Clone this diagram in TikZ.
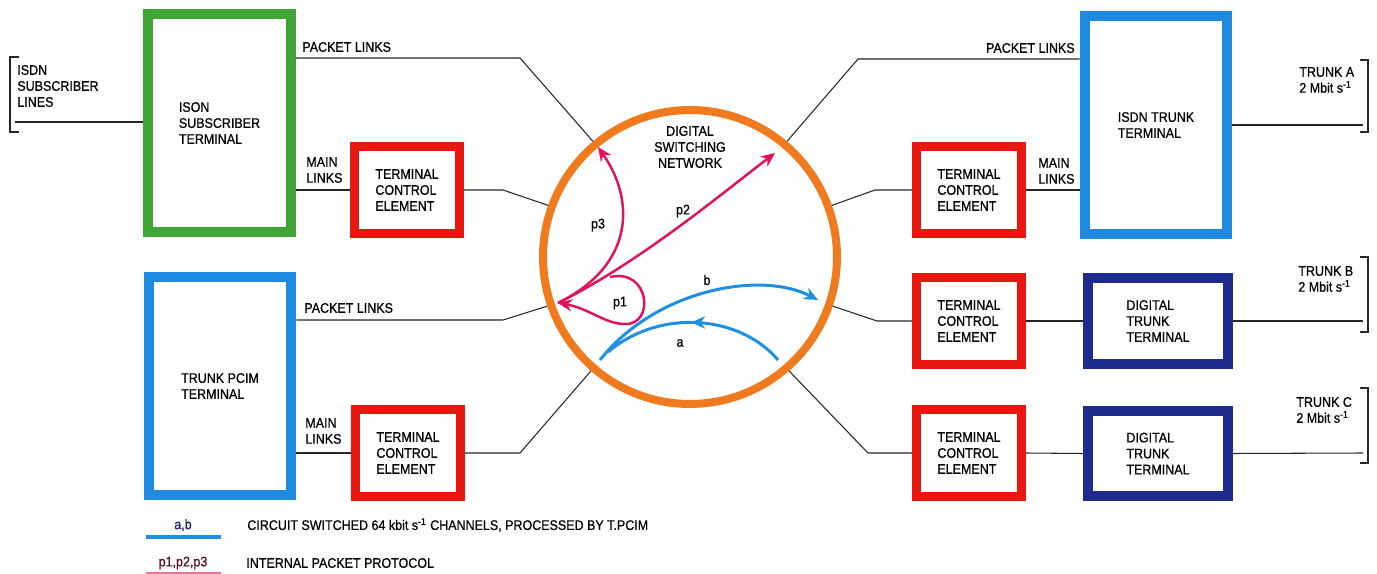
\documentclass[tikz,border=0pt]{standalone}
\usepackage{fontspec}
\setmainfont{Liberation Sans}[FakeStretch=0.9, FakeBold=0.7]
\usepackage{xcolor}
\usepackage{tikz}
\usetikzlibrary{positioning, arrows.meta, decorations.markings}

\begin{document}
\begin{tikzpicture}[x=0.02cm, y=-0.02cm, font=\fontsize{7.9}{9.1}\selectfont,
  link/.style={black!85, line width=0.6pt},
  term/.style={draw, fill=white, text=black, align=left, inner sep=0pt, line width=0.2cm},
  bigterm/.style={term, minimum width=2.86cm, minimum height=4.36cm},
  tcebox/.style={term, draw=tceRed, line width=0.18cm, minimum width=2.1cm, minimum height=1.74cm},
  dttbox/.style={term, draw=dttNavy, minimum width=2.8cm, minimum height=1.72cm},
  lbl/.style={anchor=west, align=left, inner sep=0pt},
  tip/.style={-{Stealth[length=8pt,width=7pt]}},
  pkt/.style={pktMagenta, line width=0.05cm, tip},
  ckt/.style={cktBlue, line width=0.06cm}]
\definecolor{subGreen}{HTML}{3FA535}
\definecolor{trkBlue}{HTML}{1E8BE0}
\definecolor{dttNavy}{HTML}{1E2A8C}
\definecolor{tceRed}{HTML}{E8170F}
\definecolor{dsnOrange}{HTML}{F07A1E}
\definecolor{pktMagenta}{HTML}{E0145E}
\definecolor{cktBlue}{HTML}{1E90E2}
\definecolor{legNavy}{HTML}{1A2260}
\definecolor{legMaroon}{HTML}{5A1020}
\useasboundingbox (0,0) rectangle (1377,574);

\node[bigterm, draw=subGreen] (sub) at (219.5,123) {ISON\\SUBSCRIBER\\TERMINAL};
\node[bigterm, draw=trkBlue] (pcim) at (220,386) {TRUNK PCIM\\TERMINAL};
\node[bigterm, draw=trkBlue] (itt) at (1156,125) {ISDN TRUNK\\TERMINAL};
\node[tcebox] (tceA) at (407,190) {TERMINAL\\CONTROL\\ELEMENT};
\node[tcebox] (tceB) at (408,453) {TERMINAL\\CONTROL\\ELEMENT};
\node[tcebox] (tceC) at (969,190) {TERMINAL\\CONTROL\\ELEMENT};
\node[tcebox] (tceD) at (969,321) {TERMINAL\\CONTROL\\ELEMENT};
\node[tcebox] (tceE) at (969,453) {TERMINAL\\CONTROL\\ELEMENT};
\node[dttbox] (dttB) at (1158,321) {DIGITAL\\TRUNK\\TERMINAL};
\node[dttbox] (dttC) at (1158,453.5) {DIGITAL\\TRUNK\\TERMINAL};
\node[circle, draw=dsnOrange, line width=0.16cm, minimum size=5.88cm, inner sep=0pt] (dsn) at (690,257) {};
\node[align=center, inner sep=0pt] (dsnl) at (690,147) {DIGITAL\\SWITCHING\\NETWORK};

\coordinate (sl) at (15,122);
\coordinate (kA) at (520,58);
\coordinate (kB) at (503,190);
\coordinate (kC) at (503,320);
\coordinate (kD) at (520,453);
\coordinate (kE) at (858,59);
\coordinate (kF) at (875,190);
\coordinate (kG) at (877,321);
\coordinate (kH) at (868,453);
\coordinate (tA) at (1363,125);
\coordinate (tB) at (1363,321);
\coordinate (tC) at (1363,453);

\draw[link] (sl) -- (sl -| sub.west);
\draw[link] (sub.east |- kA) -- (kA) -- (dsn.130);
\draw[link] (sub.east |- tceA.west) -- (tceA.west);
\draw[link] (tceA.east) -- (kB) -- (dsn.160);
\draw[link] (pcim.east |- kC) -- (kC) -- (dsn.199);
\draw[link] (pcim.east |- tceB.west) -- (tceB.west);
\draw[link] (tceB.east) -- (kD) -- (dsn.229);
\draw[link] (dsn.50) -- (kE) -- (kE -| itt.west);
\draw[link] (dsn.20) -- (kF) -- (tceC.west);
\draw[link] (tceC.east) -- (tceC.east -| itt.west);
\draw[link] (itt.east |- tA) -- (tA);
\draw[link] (dsn.341) -- (kG) -- (tceD.west);
\draw[link] (tceD.east) -- (dttB.west);
\draw[link] (dttB.east) -- (tB);
\draw[link] (dsn.311) -- (kH) -- (tceE.west);
\draw[link] (tceE.east) -- (dttC.west);
\draw[link] (dttC.east) -- (tC);

\draw[link] (19,57) -- (10,57) -- (10,132) -- (19,132);
\draw[link] (1360,60) -- (1368,60) -- (1368,132) -- (1360,132);
\draw[link] (1360,257) -- (1368,257) -- (1368,332) -- (1360,332);
\draw[link] (1360,388) -- (1368,388) -- (1368,463) -- (1360,463);

\node[lbl] (sll) at (17,86) {ISDN\\SUBSCRIBER\\LINES};
\node[lbl] (pkA) at (302,47) {PACKET LINKS};
\node[lbl] (mnA) at (306,170) {MAIN\\LINKS};
\node[lbl] (pkB) at (304,308) {PACKET LINKS};
\node[lbl] (mnB) at (305,431) {MAIN\\LINKS};
\node[lbl, anchor=east] (pkC) at (1075,48) {PACKET LINKS};
\node[lbl] (mnC) at (1038,171) {MAIN\\LINKS};
\node[lbl] (trA) at (1299,80) {TRUNK A\\2 Mbit s\textsuperscript{-1}};
\node[lbl] (trB) at (1298,279) {TRUNK B\\2 Mbit s\textsuperscript{-1}};
\node[lbl] (trC) at (1296,410) {TRUNK C\\2 Mbit s\textsuperscript{-1}};

\coordinate (pin) at (558,303);
\draw[pkt] (pin) .. controls (640,262) and (720,195) .. (775,153);
\draw[pkt] (pin) .. controls (635,265) and (635,200) .. (598,147);
\draw[pkt] (610,277) .. controls (650,268) and (655,325) .. (625,324) .. controls (605,324) and (588,308) .. (pin);
\draw[ckt, tip] (600,360) .. controls (655,290) and (760,270) .. (818,300);
\draw[ckt, postaction={decorate}, decoration={markings, mark=at position 0.52 with {\arrow{Stealth[length=8pt,width=7pt]}}}]
  (778,360) .. controls (740,315) and (660,308) .. (608,352);
\node (lp3) at (598,225) {p3};
\node (lp2) at (683,211) {p2};
\node (lp1) at (620,303) {p1};
\node (lb) at (707,280) {b};
\node (la) at (680,343) {a};

\draw[cktBlue, line width=0.08cm] (146,537) -- (221,537);
\draw[pktMagenta!60, line width=0.06cm] (146,573) -- (221,573);
\node[legNavy] (lab) at (183,525) {a,b};
\node[legMaroon] (lpp) at (183,563) {p1,p2,p3};
\node[lbl] (lgA) at (247,525) {CIRCUIT SWITCHED 64 kbit s\textsuperscript{-1} CHANNELS, PROCESSED BY T.PCIM};
\node[lbl] (lgB) at (246,563) {INTERNAL PACKET PROTOCOL};
\end{tikzpicture}
\end{document}
